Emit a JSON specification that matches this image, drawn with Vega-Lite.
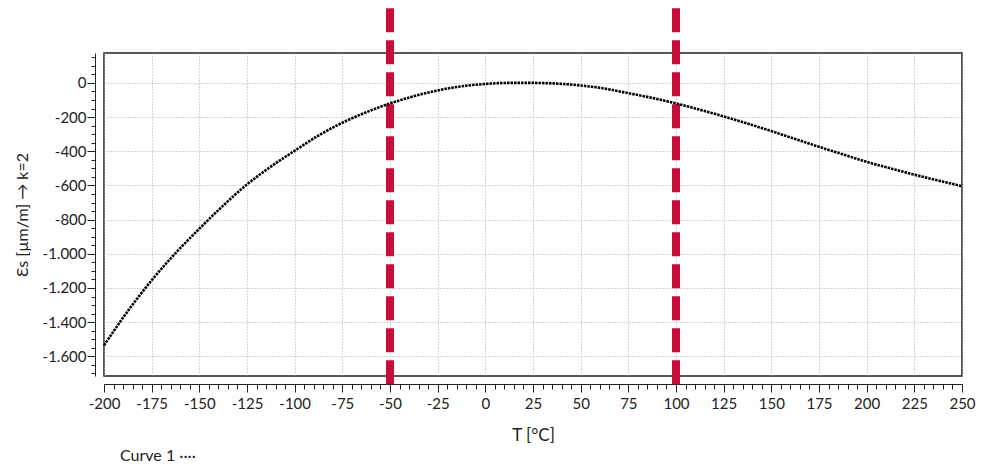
{
  "$schema": "https://vega.github.io/schema/vega-lite/v6.json",
  "width": 858,
  "height": 323,
  "autosize": {"type": "none"},
  "padding": {"left": 104, "top": 53, "right": 22, "bottom": 88},
  "background": "white",
  "config": {
    "view": {"stroke": "#222", "strokeWidth": 1.5},
    "font": "Lato",
    "axis": {"domainColor": "#222", "tickColor": "#222", "labelColor": "#222", "titleColor": "#222", "labelFont": "Lato", "titleFont": "Lato", "labelFlush": false}
  },
  "layer": [
    {
      "data": {"values": [{"T": -50}, {"T": 100}]},
      "mark": {"type": "rule", "color": "#c70d3a", "strokeWidth": 8, "strokeDash": [24, 8], "clip": false},
      "encoding": {
        "x": {
          "field": "T", "type": "quantitative",
          "scale": {"domain": [-200, 250], "nice": false, "zero": false},
          "axis": {
            "orient": "bottom",
            "values": [-200,-195,-190,-185,-180,-175,-170,-165,-160,-155,-150,-145,-140,-135,-130,-125,-120,-115,-110,-105,-100,-95,-90,-85,-80,-75,-70,-65,-60,-55,-50,-45,-40,-35,-30,-25,-20,-15,-10,-5,0,5,10,15,20,25,30,35,40,45,50,55,60,65,70,75,80,85,90,95,100,105,110,115,120,125,130,135,140,145,150,155,160,165,170,175,180,185,190,195,200,205,210,215,220,225,230,235,240,245,250],
            "labels": false, "grid": false, "domain": false, "tickSize": 5, "offset": 8, "title": null
          }
        },
        "y": {
          "datum": 436.6, "type": "quantitative",
          "scale": {"domain": [-1715, 175], "nice": false, "zero": false},
          "axis": {
            "orient": "left",
            "values": [-1700,-1650,-1600,-1550,-1500,-1450,-1400,-1350,-1300,-1250,-1200,-1150,-1100,-1050,-1000,-950,-900,-850,-800,-750,-700,-650,-600,-550,-500,-450,-400,-350,-300,-250,-200,-150,-100,-50,0,50,100,150],
            "labels": false, "grid": false, "domain": false, "tickSize": 4, "offset": 9, "title": null
          }
        },
        "y2": {"datum": -1763.6}
      }
    },
    {
      "data": {"values": [
        {"T": -200, "e": -1536}, {"T": -187.5, "e": -1335}, {"T": -175, "e": -1155}, {"T": -162.5, "e": -996},
        {"T": -150, "e": -853}, {"T": -137.5, "e": -718}, {"T": -125, "e": -594}, {"T": -112.5, "e": -490},
        {"T": -100, "e": -397}, {"T": -87.5, "e": -308}, {"T": -75, "e": -233}, {"T": -62.5, "e": -172},
        {"T": -50, "e": -120}, {"T": -37.5, "e": -78}, {"T": -25, "e": -44}, {"T": -12.5, "e": -20},
        {"T": 0, "e": -6}, {"T": 12.5, "e": 0}, {"T": 25, "e": 0}, {"T": 37.5, "e": -4},
        {"T": 50, "e": -15}, {"T": 62.5, "e": -33}, {"T": 75, "e": -60}, {"T": 87.5, "e": -88},
        {"T": 100, "e": -120}, {"T": 112.5, "e": -157}, {"T": 125, "e": -196}, {"T": 137.5, "e": -238},
        {"T": 150, "e": -282}, {"T": 162.5, "e": -328}, {"T": 175, "e": -374}, {"T": 187.5, "e": -418},
        {"T": 200, "e": -462}, {"T": 212.5, "e": -500}, {"T": 225, "e": -537}, {"T": 237.5, "e": -571},
        {"T": 250, "e": -604}
      ]},
      "mark": {"type": "line", "strokeWidth": 2.6, "strokeDash": [2.5, 1], "interpolate": "monotone"},
      "encoding": {
        "x": {
          "field": "T", "type": "quantitative",
          "scale": {"domain": [-200, 250], "nice": false, "zero": false},
          "axis": {
            "orient": "bottom",
            "values": [-200,-175,-150,-125,-100,-75,-50,-25,0,25,50,75,100,125,150,175,200,225,250],
            "labelExpr": "'' + datum.value",
            "tickSize": 8, "offset": 8, "labelFontSize": 15, "labelPadding": 4,
            "grid": true, "gridDash": [1, 2], "gridColor": "#aaa",
            "title": "T [°C]", "titleFontSize": 17, "titleFontWeight": "normal", "titlePadding": 16
          }
        },
        "y": {
          "field": "e", "type": "quantitative",
          "scale": {"domain": [-1715, 175], "nice": false, "zero": false},
          "axis": {
            "orient": "left",
            "values": [-1600,-1400,-1200,-1000,-800,-600,-400,-200,0],
            "labelExpr": "replace(replace(format(datum.value, ','), ',', '.'), '\u2212', '-')",
            "tickSize": 8, "offset": 9, "labelFontSize": 15, "labelPadding": 1,
            "grid": true, "gridDash": [1, 2], "gridColor": "#aaa",
            "title": "Ɛs [µm/m] → k=2", "titleFontSize": 16, "titleFontWeight": "normal", "titlePadding": 12
          }
        },
        "color": {
          "datum": "Curve 1",
          "scale": {"range": ["black"]},
          "legend": {
            "orient": "none", "legendX": 0, "legendY": 395, "title": null,
            "labelExpr": "datum.label + ' ····'", "labelFontSize": 16, "labelColor": "#222",
            "symbolOpacity": 0, "symbolSize": 0, "symbolStrokeWidth": 0, "labelOffset": 0, "padding": 0
          }
        }
      }
    }
  ],
  "resolve": {"axis": {"x": "independent", "y": "independent"}}
}
